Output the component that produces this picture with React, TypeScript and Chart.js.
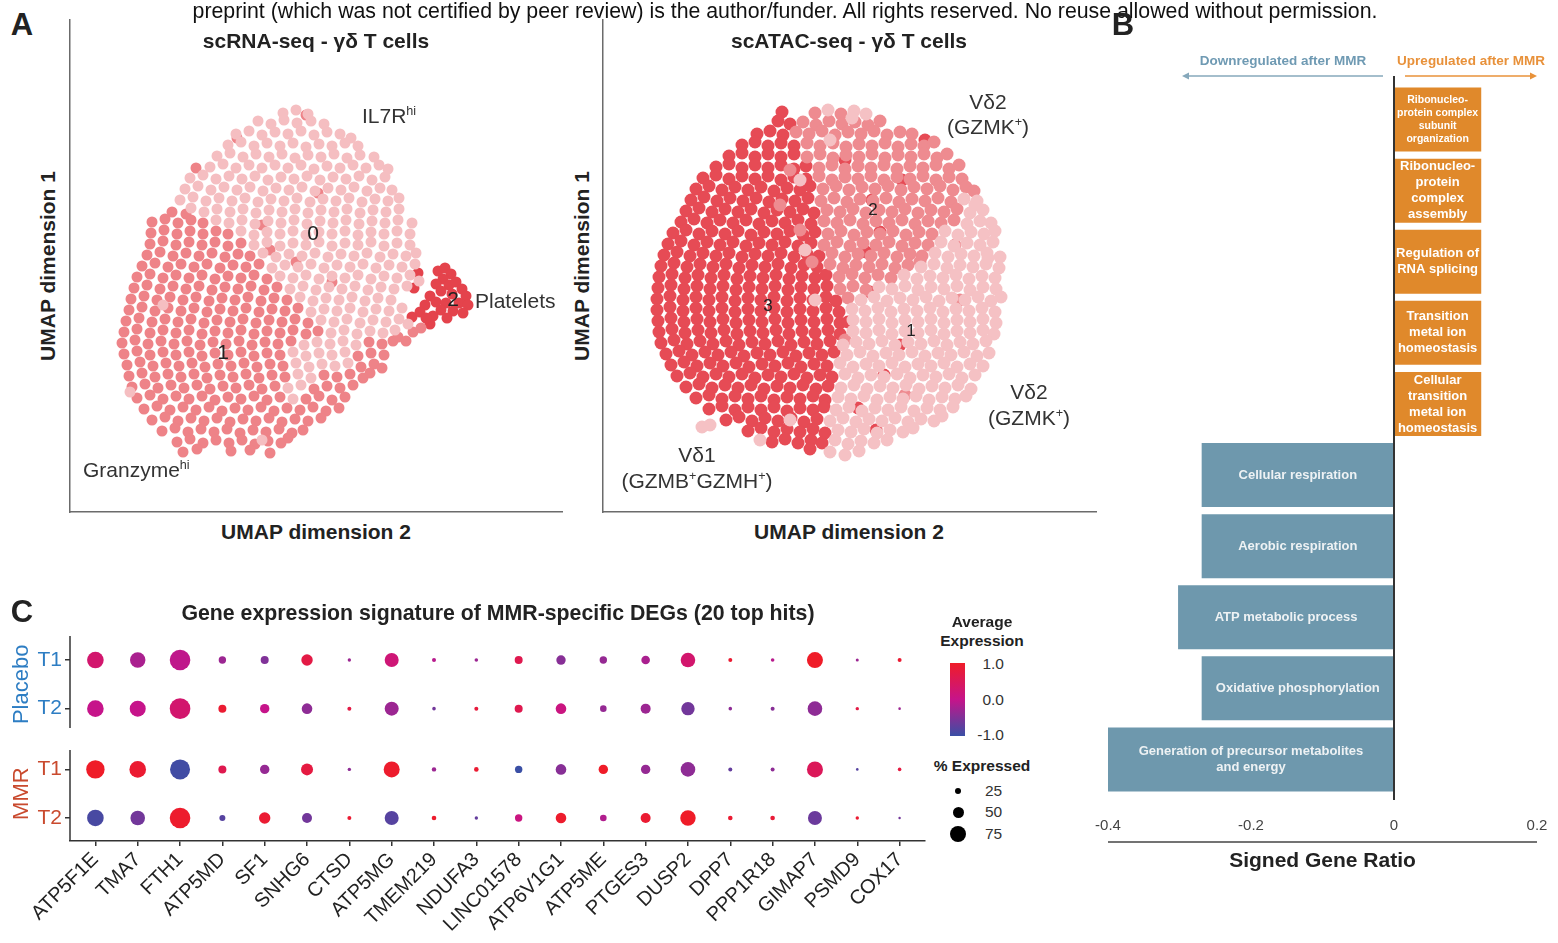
import React, { useEffect, useRef } from "react";
import { Chart, registerables } from "chart.js";

Chart.register(...registerables);

const FONT = "'Liberation Sans', Arial, Helvetica, sans-serif";
Chart.defaults.font.family = FONT;

// ================= Panel A : UMAP embeddings (arbitrary UMAP units, flat x,y pairs) =================
const rnaCluster0 = [
  283,113, 296,110, 308,114,
  258,121, 271,124, 284,120, 297,123, 311,121, 324,124,
  236,134, 249,131, 262,135, 275,132, 288,134, 301,131, 314,135, 327,132, 340,134, 351,138,
  228,145, 241,142, 254,146, 267,143, 280,146, 293,143, 306,147, 319,144, 332,146, 345,143, 358,146,
  217,156, 230,153, 243,157, 256,154, 269,157, 282,154, 295,158, 308,155, 321,157, 334,154, 347,158, 360,155, 374,157,
  210,167, 223,164, 236,168, 249,165, 262,168, 275,165, 288,168, 301,165, 314,169, 327,166, 340,168, 353,165, 366,168, 379,165, 388,169,
  190,178, 203,175, 216,179, 229,176, 242,179, 255,176, 268,180, 281,177, 294,179, 307,176, 320,180, 333,177, 346,179, 359,176, 372,180, 385,177,
  185,189, 198,186, 211,190, 224,187, 237,190, 250,187, 263,191, 276,188, 289,190, 302,187, 315,191, 328,188, 341,190, 354,187, 367,191, 380,188, 392,190,
  180,200, 193,197, 206,201, 219,198, 232,201, 245,198, 258,202, 271,199, 284,201, 297,198, 310,202, 323,199, 336,201, 349,198, 362,202, 375,199, 388,201, 399,198,
  191,208, 204,212, 217,209, 230,212, 243,209, 256,213, 269,210, 282,212, 295,209, 308,213, 321,210, 334,212, 347,209, 360,213, 373,210, 386,212, 399,209,
  216,220, 229,223, 242,220, 255,224, 268,221, 281,223, 294,220, 307,224, 320,221, 333,223, 346,220, 359,224, 372,221, 385,223, 398,220, 412,223,
  241,231, 254,235, 267,232, 280,234, 293,231, 306,235, 319,232, 332,234, 345,231, 358,235, 371,232, 384,234, 397,231, 410,234,
  254,245, 267,242, 280,246, 293,243, 306,245, 319,242, 332,246, 345,243, 358,245, 371,242, 384,246, 397,243, 410,245,
  263,253, 276,257, 289,254, 302,256, 315,253, 328,257, 341,254, 354,256, 367,253, 380,257, 393,254, 406,256, 416,253,
  272,268, 285,265, 298,267, 311,264, 324,268, 337,265, 350,267, 363,264, 376,268, 389,265, 402,267, 415,264,
  280,276, 293,278, 306,275, 319,279, 332,276, 345,278, 358,275, 371,279, 384,276, 397,278, 410,275,
  290,289, 303,286, 316,290, 329,287, 342,289, 355,286, 368,290, 381,287, 394,289, 407,286, 419,281,
  300,297, 313,301, 326,298, 339,300, 352,297, 365,301, 378,298, 391,300,
  311,312, 324,309, 337,311, 350,308, 363,312, 376,309, 389,311, 402,308,
  321,320, 334,322, 347,319, 360,323, 373,320, 386,322, 399,319, 408,324,
  331,333, 344,330, 357,334, 370,331, 383,333, 395,330,
  304,345, 317,342, 330,344, 343,341, 356,345,
  293,352, 306,356, 319,353, 332,355, 345,352,
  296,363, 309,367, 322,364, 335,366, 348,363,
  298,374, 311,378, 288,388, 301,385, 293,399,
  130,392, 163,305, 262,440,
];
const rnaCluster1 = [
  306,115, 237,138, 196,168, 172,212, 186,214, 318,193, 270,250, 296,262, 332,282, 262,225,
  152,222, 165,219, 178,223, 191,220, 203,223,
  151,233, 164,230, 177,234, 190,231, 203,234, 216,231, 228,234,
  150,244, 163,241, 176,245, 189,242, 202,245, 215,242, 228,246, 241,243,
  147,255, 160,252, 173,256, 186,253, 199,256, 212,253, 225,257, 238,254, 250,256,
  142,266, 155,263, 168,267, 181,264, 194,267, 207,264, 220,268, 233,265, 246,267, 259,264,
  137,277, 150,274, 163,278, 176,275, 189,278, 202,275, 215,279, 228,276, 241,278, 254,275, 267,279,
  134,288, 147,285, 160,289, 173,286, 186,289, 199,286, 212,290, 225,287, 238,289, 251,286, 264,290, 277,287,
  131,299, 144,296, 157,300, 170,297, 183,300, 196,297, 209,301, 222,298, 235,300, 248,297, 261,301, 274,298, 287,300,
  129,310, 142,307, 155,311, 168,308, 181,311, 194,308, 207,312, 220,309, 233,311, 246,308, 259,312, 272,309, 285,311, 298,308,
  126,321, 139,318, 152,322, 165,319, 178,322, 191,319, 204,323, 217,320, 230,322, 243,319, 256,323, 269,320, 282,322, 295,319, 308,323,
  124,332, 137,329, 150,333, 163,330, 176,333, 189,330, 202,334, 215,331, 228,333, 241,330, 254,334, 267,331, 280,333, 293,330, 306,334, 318,331,
  122,343, 135,340, 148,344, 161,341, 174,344, 187,341, 200,345, 213,342, 226,344, 239,341, 252,345, 265,342, 278,344, 291,341, 369,342, 382,344, 393,341,
  124,354, 137,351, 150,355, 163,352, 176,355, 189,352, 202,356, 215,353, 228,355, 241,352, 254,356, 267,353, 280,355, 358,356, 371,353, 384,355,
  127,365, 140,362, 153,366, 166,363, 179,366, 192,363, 205,367, 218,364, 231,366, 244,363, 257,367, 270,364, 283,366, 361,367, 374,364, 382,368,
  129,376, 142,373, 155,377, 168,374, 181,377, 194,374, 207,378, 220,375, 233,377, 246,374, 259,378, 272,375, 285,377, 324,375, 337,377, 350,374, 363,378, 370,373,
  132,387, 145,384, 158,388, 171,385, 184,388, 197,385, 210,389, 223,386, 236,388, 249,385, 262,389, 275,386, 314,389, 327,386, 340,388, 353,385,
  137,398, 150,395, 163,399, 176,396, 189,399, 202,396, 215,400, 228,397, 241,399, 254,396, 267,400, 280,397, 306,399, 319,396, 332,400, 345,397,
  144,409, 157,406, 170,410, 183,407, 196,410, 209,407, 222,411, 235,408, 248,410, 261,407, 274,411, 287,408, 300,410, 313,407, 326,411, 339,408,
  152,420, 165,417, 178,421, 191,418, 204,421, 217,418, 230,422, 243,419, 256,421, 269,418, 282,422, 295,419, 308,421, 321,418,
  162,431, 175,428, 188,432, 201,429, 214,432, 227,429, 240,433, 253,430, 266,432, 279,429, 292,433, 303,430,
  177,442, 190,439, 203,443, 216,440, 229,443, 242,440, 255,444, 268,441, 281,443, 288,438,
  183,452, 197,449, 231,451, 250,450, 270,453,
  398,337, 406,341, 413,332, 421,328,
];
const rnaCluster2 = [
  438,271, 445,268, 451,274, 443,279, 436,284, 449,285, 456,282, 462,289, 441,291, 452,294,
  430,296, 466,296, 436,302, 446,303, 459,303, 468,305, 425,305, 441,310, 453,311, 463,313,
  433,316, 447,318, 430,324, 418,273, 414,288, 412,317, 420,312, 426,318,
];

const atacCluster1 = [
  828,110, 854,111, 866,114,
  964,199, 977,201, 970,213, 983,210, 967,224, 980,221, 991,223,
  945,231, 958,235, 971,232, 984,234, 995,231,
  941,242, 954,246, 967,243, 980,245, 993,242,
  935,253, 948,257, 961,254, 974,256, 987,253, 1000,257,
  921,267, 934,264, 947,268, 960,265, 973,267, 986,264, 999,268,
  904,275, 917,279, 930,276, 943,278, 956,275, 969,279, 982,276, 995,278,
  879,287, 892,289, 905,286, 918,290, 931,287, 944,289, 957,286, 970,290, 983,287, 996,289,
  861,300, 874,297, 887,301, 900,298, 913,300, 926,297, 939,301, 952,298, 965,300, 978,297, 991,301, 1001,297,
  852,309, 865,311, 878,308, 891,312, 904,309, 917,311, 930,308, 943,312, 956,309, 969,311, 982,308, 995,312,
  853,320, 866,322, 879,319, 892,323, 905,320, 918,322, 931,319, 944,323, 957,320, 970,322, 983,319, 996,323,
  853,331, 866,333, 879,330, 892,334, 905,331, 918,333, 931,330, 944,334, 957,331, 970,333, 983,330, 994,334,
  843,345, 856,342, 869,344, 882,341, 895,345, 908,342, 921,344, 934,341, 947,345, 960,342, 973,344, 986,341,
  847,355, 860,352, 873,356, 886,353, 899,355, 912,352, 925,356, 938,353, 951,355, 964,352, 977,356, 989,353,
  840,363, 853,367, 866,364, 879,366, 892,363, 905,367, 918,364, 931,366, 944,363, 957,367, 970,364, 983,366,
  845,374, 858,378, 871,375, 884,377, 897,374, 910,378, 923,375, 936,377, 949,374, 962,378, 975,375,
  841,388, 854,385, 867,389, 880,386, 893,388, 906,385, 919,389, 932,386, 945,388, 958,385, 971,389,
  838,397, 851,399, 864,396, 877,400, 890,397, 903,399, 916,396, 929,400, 942,397, 955,399, 966,396,
  836,410, 849,407, 862,411, 875,408, 888,410, 901,407, 914,411, 927,408, 940,410, 953,407,
  830,421, 843,418, 856,422, 869,419, 882,421, 895,418, 908,422, 921,419, 934,421, 942,416,
  838,430, 851,432, 864,429, 877,433, 890,430, 903,432, 913,428,
  835,440, 848,444, 861,441, 874,443, 887,440,
  830,452, 845,455, 859,451,
  702,427, 710,425,
  830,140, 852,118, 975,205, 815,300, 805,250, 790,420, 760,440, 800,180, 988,258,
];
const atacCluster2 = [
  815,113, 841,114,
  803,122, 816,125, 829,121, 842,124, 855,122, 868,125, 880,121,
  796,132, 809,134, 822,131, 835,135, 848,132, 861,134, 874,131, 887,135, 900,132, 912,134,
  807,143, 820,146, 833,143, 846,147, 859,144, 872,146, 885,143, 898,147, 911,144, 924,146, 934,142,
  807,157, 820,154, 833,158, 846,155, 859,157, 872,154, 885,158, 898,155, 911,157, 924,154, 937,158, 947,154,
  819,168, 832,165, 845,169, 858,166, 871,168, 884,165, 897,169, 910,166, 923,168, 936,165, 949,169, 959,165,
  819,176, 832,180, 845,177, 858,179, 871,176, 884,180, 897,177, 910,179, 923,176, 936,180, 949,177, 962,179,
  823,189, 836,186, 849,190, 862,187, 875,189, 888,186, 901,190, 914,187, 927,189, 940,186, 953,190, 966,187, 974,191,
  821,201, 834,198, 847,202, 860,199, 873,201, 886,198, 899,202, 912,199, 925,201, 938,198, 951,202,
  827,210, 840,212, 853,209, 866,213, 879,210, 892,212, 905,209, 918,213, 931,210, 944,212, 957,209,
  824,221, 837,223, 850,220, 863,224, 876,221, 889,223, 902,220, 915,224, 928,221, 941,223, 954,220,
  828,234, 841,231, 854,235, 867,232, 880,234, 893,231, 906,235, 919,232, 932,234,
  824,245, 837,242, 850,246, 863,243, 876,245, 889,242, 902,246, 915,243, 928,245,
  832,253, 845,257, 858,254, 871,256, 884,253, 897,257, 910,254, 922,256,
  830,264, 843,268, 856,265, 869,267, 882,264, 895,268, 908,265,
  839,277, 852,274, 865,278, 878,275, 891,278,
  840,289, 853,286, 866,290, 848,298,
  960,300, 920,262, 800,230, 812,262, 790,170, 955,245, 845,340, 905,395, 780,205,
];
const atacCluster3 = [
  782,112, 778,121, 790,124,
  757,134, 770,131, 783,135,
  742,145, 755,142, 768,146, 781,143, 794,146,
  729,156, 742,153, 755,157, 768,154, 781,157, 794,154,
  716,167, 729,164, 742,168, 755,165, 768,168, 781,165, 794,169, 806,166,
  703,178, 716,175, 729,179, 742,176, 755,179, 768,176, 781,180, 794,177, 806,179,
  696,189, 709,186, 722,190, 735,187, 748,190, 761,187, 774,191, 787,188, 800,190, 810,186,
  691,200, 704,197, 717,201, 730,198, 743,201, 756,198, 769,202, 782,199, 795,201, 808,198,
  686,211, 699,208, 712,212, 725,209, 738,212, 751,209, 764,213, 777,210, 790,212, 803,209, 814,213,
  681,222, 694,219, 707,223, 720,220, 733,223, 746,220, 759,224, 772,221, 785,223, 798,220, 811,224,
  673,233, 686,230, 699,234, 712,231, 725,234, 738,231, 751,235, 764,232, 777,234, 790,231, 803,235, 815,232,
  668,244, 681,241, 694,245, 707,242, 720,245, 733,242, 746,246, 759,243, 772,245, 785,242, 798,246, 811,243,
  664,255, 677,252, 690,256, 703,253, 716,256, 729,253, 742,257, 755,254, 768,256, 781,253, 794,257, 807,254, 819,256,
  661,266, 674,263, 687,267, 700,264, 713,267, 726,264, 739,268, 752,265, 765,267, 778,264, 791,268, 804,265, 817,267,
  659,277, 672,274, 685,278, 698,275, 711,278, 724,275, 737,279, 750,276, 763,278, 776,275, 789,279, 802,276, 815,278, 826,275,
  658,288, 671,285, 684,289, 697,286, 710,289, 723,286, 736,290, 749,287, 762,289, 775,286, 788,290, 801,287, 814,289, 827,286,
  657,299, 670,296, 683,300, 696,297, 709,300, 722,297, 735,301, 748,298, 761,300, 774,297, 787,301, 800,298, 813,300, 826,297, 836,301,
  657,310, 670,307, 683,311, 696,308, 709,311, 722,308, 735,312, 748,309, 761,311, 774,308, 787,312, 800,309, 813,311, 826,308, 839,312,
  658,321, 671,318, 684,322, 697,319, 710,322, 723,319, 736,323, 749,320, 762,322, 775,319, 788,323, 801,320, 814,322, 827,319, 840,323,
  659,332, 672,329, 685,333, 698,330, 711,333, 724,330, 737,334, 750,331, 763,333, 776,330, 789,334, 802,331, 815,333, 828,330, 840,334,
  661,343, 674,340, 687,344, 700,341, 713,344, 726,341, 739,345, 752,342, 765,344, 778,341, 791,345, 804,342, 817,344, 830,341,
  666,354, 679,351, 692,355, 705,352, 718,355, 731,352, 744,356, 757,353, 770,355, 783,352, 796,356, 809,353, 822,355, 834,352,
  671,365, 684,362, 697,366, 710,363, 723,366, 736,363, 749,367, 762,364, 775,366, 788,363, 801,367, 814,364, 827,366,
  677,376, 690,373, 703,377, 716,374, 729,377, 742,374, 755,378, 768,375, 781,377, 794,374, 807,378, 820,375, 832,377,
  686,387, 699,384, 712,388, 725,385, 738,388, 751,385, 764,389, 777,386, 790,388, 803,385, 816,389, 828,386,
  696,398, 709,395, 722,399, 735,396, 748,399, 761,396, 774,400, 787,397, 800,399, 813,396, 825,400,
  709,409, 722,406, 735,410, 748,407, 761,410, 774,407, 787,411, 800,408, 813,410, 824,407,
  726,420, 739,417, 752,421, 765,418, 778,421, 791,418, 804,422, 817,419,
  748,431, 761,428, 774,432, 787,429, 800,432, 813,429, 825,433,
  772,442, 785,439, 798,443, 811,440, 822,443, 810,449,
  845,160, 872,200, 880,232, 902,180, 870,292, 900,345, 884,375, 848,322, 866,252, 925,140, 858,408, 876,430,
];
const rnaRangeX = [70, 562];
const rnaRangeY = [20, 512];
const atacRangeX = [603, 1096];
const atacRangeY = [20, 512];

// ================= Panel B : GO enrichment =================
const goTerms = [
  ["Ribonucleo-", "protein complex", "subunit", "organization"],
  ["Ribonucleo-", "protein", "complex", "assembly"],
  ["Regulation of", "RNA splicing"],
  ["Transition", "metal ion", "homeostasis"],
  ["Cellular", "transition", "metal ion", "homeostasis"],
  ["Cellular respiration"],
  ["Aerobic respiration"],
  ["ATP metabolic process"],
  ["Oxidative phosphorylation"],
  ["Generation of precursor metabolites", "and energy"],
];
const signedGeneRatio = [0.122, 0.122, 0.122, 0.122, 0.122, -0.269, -0.269, -0.302, -0.269, -0.4];
const ratioTicks = [-0.4, -0.2, 0, 0.2];

// ================= Panel C : dot plot =================
const genes = ["ATP5F1E", "TMA7", "FTH1", "ATP5MD", "SF1", "SNHG6", "CTSD", "ATP5MG", "TMEM219", "NDUFA3",
  "LINC01578", "ATP6V1G1", "ATP5ME", "PTGES3", "DUSP2", "DPP7", "PPP1R18", "GIMAP7", "PSMD9", "COX17"];
const sampleLabels = ["T1", "T2", "T1", "T2"];
const sampleGroups = ["Placebo", "Placebo", "MMR", "MMR"];
const groupNames = ["Placebo", "MMR"];
const avgExpPlaceboT1 = [0.3, -0.2, -0.05, -0.3, -0.5, 0.7, -0.3, 0.2, -0.1, -0.3, 0.6, -0.45, -0.35, -0.2, 0.3, 0.9, -0.1, 1.0, -0.3, 0.9];
const avgExpPlaceboT2 = [0.0, 0.0, 0.3, 0.9, 0.0, -0.4, 0.7, -0.3, -0.6, 0.8, 0.6, 0.1, -0.35, -0.3, -0.6, -0.4, -0.45, -0.4, 0.7, -0.3];
const avgExpMmrT1 = [1.0, 0.9, -0.95, 0.6, -0.35, 0.75, -0.4, 0.95, -0.3, 0.9, -1.0, -0.45, 1.0, -0.35, -0.4, -0.7, -0.4, 0.5, -0.8, 0.75];
const avgExpMmrT2 = [-0.9, -0.6, 0.95, -0.8, 0.9, -0.6, 0.9, -0.8, 0.95, -0.7, 0.1, 0.95, -0.15, 0.9, 1.0, 0.9, 0.85, -0.65, 0.9, -0.6];
const pctExpPlaceboT1 = [78, 72, 98, 32, 35, 52, 12, 65, 15, 13, 35, 42, 32, 38, 68, 15, 13, 75, 10, 15];
const pctExpPlaceboT2 = [78, 75, 98, 35, 42, 48, 15, 65, 13, 15, 35, 48, 28, 45, 62, 13, 15, 68, 12, 8];
const pctExpMmrT1 = [87, 78, 95, 35, 42, 55, 12, 75, 17, 18, 32, 48, 42, 42, 68, 15, 15, 75, 8, 13];
const pctExpMmrT2 = [78, 68, 98, 25, 52, 45, 15, 65, 18, 12, 32, 48, 28, 45, 72, 18, 18, 65, 12, 7];
const expLegendTicks = [1.0, 0.0, -1.0];
const pctLegendValues = [25, 50, 75];

// ================= styles & layout =================
const RNA_COLORS = ["#F5BEC1", "#EE8388", "#E4434C"];
const ATAC_COLORS = ["#F5C1C4", "#EE8B90", "#E64B55"];
const ORANGE = "#E0892B";
const BLUE = "#6E98AD";
const EXP_LOW = [58, 79, 165];
const EXP_MID = [198, 20, 138];
const EXP_HIGH = [239, 28, 40];
const GROUP_COLORS = ["#2D7DC3", "#C94A2E"];
const rowPositions = [0, 1, 2.25, 3.25];
const facetRanges = [[-0.495, 1.4], [1.85, 3.724]];
const termFont = [10.5, 13, 13, 13, 13, 13, 13, 13, 13, 13];
const termLine = [12.8, 16, 16, 16, 16, 16, 16, 16, 16, 16];
const ANNOT = 21;

const toPoints = (flat: number[]) => {
  const out: { x: number; y: number }[] = [];
  for (let i = 0; i < flat.length; i += 2) out.push({ x: flat[i], y: flat[i + 1] });
  return out;
};
const pctRadius = (p: number) => 0.5 + 0.1 * p;
const expColor = (v: number) => {
  const t = Math.max(-1, Math.min(1, v));
  const [a, b, f] = t < 0 ? [EXP_LOW, EXP_MID, t + 1] : [EXP_MID, EXP_HIGH, t];
  return `rgb(${(a as number[]).map((c, i) => Math.round(c + ((b as number[])[i] - c) * (f as number))).join(",")})`;
};

function CanvasBox({ x, y, w, h, make }: any) {
  const ref = useRef<HTMLCanvasElement>(null);
  useEffect(() => {
    const chart = new Chart(ref.current as HTMLCanvasElement, make());
    return () => chart.destroy();
  }, []);
  return <canvas ref={ref} width={w} height={h} style={{ position: "absolute", left: x, top: y, width: w, height: h }} />;
}

const hiddenAxis = (range: number[], reverse: boolean) => ({
  type: "linear", min: range[0], max: range[1], reverse,
  ticks: { display: false },
  grid: { display: false, drawTicks: false },
  border: { display: true, color: "#6b6b6b", width: 1.5 },
});

function umapConfig(layers: { values: number[]; color: string }[], rx: number[], ry: number[], radius: number): any {
  return {
    type: "scatter",
    data: {
      datasets: layers.map((l) => ({
        data: toPoints(l.values),
        backgroundColor: l.color,
        pointRadius: radius,
        pointHoverRadius: radius,
        pointBorderWidth: 0,
        borderWidth: 0,
      })),
    },
    options: {
      animation: false, responsive: false, devicePixelRatio: 1, events: [],
      layout: { padding: 4, autoPadding: false },
      plugins: { legend: { display: false }, tooltip: { enabled: false } },
      scales: { x: hiddenAxis(rx, false), y: hiddenAxis(ry, true) },
    },
  };
}

function drawArrow(ctx: CanvasRenderingContext2D, x1: number, x2: number, y: number, color: string) {
  const dir = Math.sign(x2 - x1);
  ctx.strokeStyle = color; ctx.fillStyle = color; ctx.lineWidth = 1.5;
  ctx.beginPath(); ctx.moveTo(x1, y); ctx.lineTo(x2 - dir * 5, y); ctx.stroke();
  ctx.beginPath(); ctx.moveTo(x2, y); ctx.lineTo(x2 - dir * 7, y - 3.5); ctx.lineTo(x2 - dir * 7, y + 3.5); ctx.closePath(); ctx.fill();
}

function goConfig(): any {
  const decor = {
    id: "goDecor",
    afterDatasetsDraw(chart: any) {
      const { ctx, chartArea, scales } = chart;
      const xs = scales.x;
      const x0 = xs.getPixelForValue(0);
      const meta = chart.getDatasetMeta(0);
      ctx.save();
      ctx.textAlign = "center"; ctx.textBaseline = "middle";
      meta.data.forEach((bar: any, i: number) => {
        const { x, y, base } = bar.getProps(["x", "y", "base"], true);
        const cx = (x + base) / 2;
        const lines = goTerms[i];
        ctx.font = `bold ${termFont[i]}px ${FONT}`;
        ctx.fillStyle = signedGeneRatio[i] > 0 ? "#ffffff" : "#eef2f4";
        lines.forEach((ln, k) => ctx.fillText(ln, cx, y + (k - (lines.length - 1) / 2) * termLine[i]));
      });
      ctx.strokeStyle = "#333"; ctx.lineWidth = 2;
      ctx.beginPath(); ctx.moveTo(x0, chartArea.top - 8); ctx.lineTo(x0, chartArea.bottom + 5); ctx.stroke();
      const yAxis = chartArea.bottom + 47;
      ctx.lineWidth = 1.5; ctx.strokeStyle = "#444";
      ctx.beginPath();
      ctx.moveTo(xs.getPixelForValue(ratioTicks[0]), yAxis);
      ctx.lineTo(xs.getPixelForValue(ratioTicks[ratioTicks.length - 1]), yAxis);
      ctx.stroke();
      const ay = chartArea.top - 8;
      drawArrow(ctx, x0 - 11, x0 - 212, ay, "#86a8bb");
      drawArrow(ctx, x0 + 11, x0 + 143, ay, "#E8923A");
      ctx.font = `bold 13.5px ${FONT}`;
      ctx.fillStyle = "#6f9ab3"; ctx.fillText("Downregulated after MMR", x0 - 111, chartArea.top - 23);
      ctx.fillStyle = "#E8913A"; ctx.fillText("Upregulated after MMR", x0 + 77, chartArea.top - 23);
      ctx.restore();
    },
  };
  return {
    type: "bar",
    data: {
      labels: goTerms.map((t) => t.join(" ")),
      datasets: [{
        data: signedGeneRatio,
        backgroundColor: signedGeneRatio.map((v) => (v > 0 ? ORANGE : BLUE)),
        barPercentage: 0.9, categoryPercentage: 1, borderWidth: 0,
      }],
    },
    options: {
      indexAxis: "y", animation: false, responsive: false, devicePixelRatio: 1, events: [],
      layout: { padding: { left: 28, right: 21, top: 44, bottom: 0 } },
      plugins: { legend: { display: false }, tooltip: { enabled: false } },
      scales: {
        x: {
          type: "linear", min: ratioTicks[0], max: ratioTicks[ratioTicks.length - 1],
          afterBuildTicks: (s: any) => { s.ticks = ratioTicks.map((v) => ({ value: v })); },
          ticks: { callback: (v: number) => (v === 0 ? "0" : String(v)), font: { size: 15 }, color: "#444", padding: 0 },
          grid: { display: false, drawTicks: true, tickLength: 22 },
          border: { display: false },
          title: { display: true, text: "Signed Gene Ratio", font: { size: 21, weight: "bold" }, color: "#222", padding: { top: 0, bottom: 26 } },
          afterFit: (s: any) => { s.height = 105; },
        },
        y: { display: false },
      },
    },
    plugins: [decor],
  };
}

function dotConfig(): any {
  const avg = [avgExpPlaceboT1, avgExpPlaceboT2, avgExpMmrT1, avgExpMmrT2];
  const pct = [pctExpPlaceboT1, pctExpPlaceboT2, pctExpMmrT1, pctExpMmrT2];
  const sampleColors = sampleGroups.map((g) => GROUP_COLORS[groupNames.indexOf(g)]);
  const facetDecor = {
    id: "facetDecor",
    afterDraw(chart: any) {
      const { ctx, chartArea, scales: { y } } = chart;
      ctx.save();
      ctx.strokeStyle = "#333"; ctx.lineWidth = 1.5;
      facetRanges.forEach(([a, b]) => {
        ctx.beginPath(); ctx.moveTo(chartArea.left, y.getPixelForValue(a)); ctx.lineTo(chartArea.left, y.getPixelForValue(b)); ctx.stroke();
      });
      groupNames.forEach((g, gi) => {
        const idx = sampleGroups.map((s, i) => (s === g ? i : -1)).filter((i) => i >= 0);
        const cy = idx.reduce((s, i) => s + y.getPixelForValue(rowPositions[i]), 0) / idx.length;
        ctx.save();
        ctx.translate(22, cy); ctx.rotate(-Math.PI / 2);
        ctx.font = `22px ${FONT}`; ctx.fillStyle = GROUP_COLORS[gi];
        ctx.textAlign = "center"; ctx.textBaseline = "middle";
        ctx.fillText(g, 0, 0);
        ctx.restore();
      });
      ctx.restore();
    },
  };
  return {
    type: "bubble",
    data: {
      datasets: avg.map((row, ri) => ({
        data: genes.map((_, gi) => ({ x: gi + 1, y: rowPositions[ri], r: pctRadius(pct[ri][gi]) })),
        backgroundColor: row.map(expColor),
        borderWidth: 0, hoverRadius: 0,
      })),
    },
    options: {
      animation: false, responsive: false, devicePixelRatio: 1, events: [],
      layout: { padding: { left: 0, top: 41, right: 5, bottom: 0 }, autoPadding: false },
      plugins: { legend: { display: false }, tooltip: { enabled: false } },
      scales: {
        x: {
          type: "linear", min: 0.4, max: genes.length + 0.6,
          afterBuildTicks: (s: any) => { s.ticks = genes.map((_, i) => ({ value: i + 1 })); },
          ticks: { autoSkip: false, maxRotation: 45, minRotation: 45, font: { size: 20 }, color: "#222", padding: 2,
            callback: (_v: number, i: number) => genes[i] },
          grid: { display: true, drawOnChartArea: false, drawTicks: true, tickLength: 5, color: "#333", lineWidth: 1.5 },
          border: { display: true, color: "#333", width: 1.5 },
          afterFit: (s: any) => { s.height = 102; },
        },
        y: {
          type: "linear", reverse: true, min: facetRanges[0][0], max: facetRanges[1][1],
          afterBuildTicks: (s: any) => { s.ticks = rowPositions.map((v) => ({ value: v })); },
          ticks: { font: { size: 21 }, padding: 3, color: (c: any) => sampleColors[c.index],
            callback: (_v: number, i: number) => sampleLabels[i] },
          grid: { display: true, drawOnChartArea: false, drawTicks: true, tickLength: 5, color: "#333", lineWidth: 1.5 },
          border: { display: false },
          afterFit: (s: any) => { s.width = 70; },
        },
      },
    },
    plugins: [facetDecor],
  };
}

function Txt({ x, y, size = ANNOT, bold = false, color = "#222", anchor = "middle", rotate = 0, children }: any) {
  const tx = anchor === "start" ? "0" : anchor === "end" ? "-100%" : "-50%";
  return (
    <div style={{ position: "absolute", left: x, top: y, transform: `translate(${tx}, -50%) rotate(${rotate}deg)`,
      fontSize: size, fontWeight: bold ? 700 : 400, color, whiteSpace: "nowrap", lineHeight: 1.15, fontFamily: FONT }}>
      {children}
    </div>
  );
}
const Sup = ({ children }: any) => (
  <span style={{ fontSize: "0.6em", position: "relative", top: "-0.6em" }}>{children}</span>
);

export default function App() {
  return (
    <div style={{ position: "absolute", left: 0, top: 0, width: 1558, height: 943, background: "#fff", overflow: "hidden", fontFamily: FONT }}>
      <CanvasBox x={66} y={16} w={500} h={500}
        make={() => umapConfig([
          { values: rnaCluster0, color: RNA_COLORS[0] },
          { values: rnaCluster1, color: RNA_COLORS[1] },
          { values: rnaCluster2, color: RNA_COLORS[2] },
        ], rnaRangeX, rnaRangeY, 5.5)} />
      <CanvasBox x={599} y={16} w={501} h={500}
        make={() => umapConfig([
          { values: atacCluster1, color: ATAC_COLORS[0] },
          { values: atacCluster2, color: ATAC_COLORS[1] },
          { values: atacCluster3, color: ATAC_COLORS[2] },
        ], atacRangeX, atacRangeY, 6.5)} />
      <CanvasBox x={1080} y={40} w={478} h={860} make={goConfig} />
      <CanvasBox x={0} y={595} w={930} h={348} make={dotConfig} />

      <Txt x={785} y={11} size={21.3} color="#111">preprint (which was not certified by peer review) is the author/funder. All rights reserved. No reuse allowed without permission.</Txt>
      <Txt x={22} y={25} size={31} bold color="#222">A</Txt>
      <Txt x={1123} y={25} size={31} bold color="#222">B</Txt>
      <Txt x={22} y={612} size={31} bold color="#222">C</Txt>

      <Txt x={316} y={41} size={21} bold>scRNA-seq - γδ T cells</Txt>
      <Txt x={48} y={266} size={21} bold rotate={-90}>UMAP dimension 1</Txt>
      <Txt x={316} y={532} size={21} bold>UMAP dimension 2</Txt>
      <Txt x={362} y={116} anchor="start" color="#333">IL7R<Sup>hi</Sup></Txt>
      <Txt x={313} y={233}>0</Txt>
      <Txt x={223} y={352}>1</Txt>
      <Txt x={453} y={299}>2</Txt>
      <Txt x={475} y={301} anchor="start" color="#333">Platelets</Txt>
      <Txt x={83} y={470} anchor="start" color="#333">Granzyme<Sup>hi</Sup></Txt>

      <Txt x={849} y={41} size={21} bold>scATAC-seq - γδ T cells</Txt>
      <Txt x={582} y={266} size={21} bold rotate={-90}>UMAP dimension 1</Txt>
      <Txt x={849} y={532} size={21} bold>UMAP dimension 2</Txt>
      <Txt x={988} y={102} color="#333">Vδ2</Txt>
      <Txt x={988} y={127} color="#333">(GZMK<Sup>+</Sup>)</Txt>
      <Txt x={873} y={210} size={17}>2</Txt>
      <Txt x={768} y={306} size={17}>3</Txt>
      <Txt x={911} y={331} size={17}>1</Txt>
      <Txt x={1029} y={392} color="#333">Vδ2</Txt>
      <Txt x={1029} y={418} color="#333">(GZMK<Sup>+</Sup>)</Txt>
      <Txt x={697} y={455} color="#333">Vδ1</Txt>
      <Txt x={697} y={481} color="#333">(GZMB<Sup>+</Sup>GZMH<Sup>+</Sup>)</Txt>

      <Txt x={498} y={613} size={21.3} bold>Gene expression signature of MMR-specific DEGs (20 top hits)</Txt>
      <Txt x={982} y={622} size={15.5} bold>Average</Txt>
      <Txt x={982} y={641} size={15.5} bold>Expression</Txt>
      <div style={{ position: "absolute", left: 950, top: 663, width: 15, height: 73,
        background: `linear-gradient(to bottom, ${expColor(1)}, ${expColor(0)}, ${expColor(-1)})` }} />
      {expLegendTicks.map((v, i) => (
        <Txt key={v} x={1004} y={664 + i * 35.5} size={15.5} anchor="end" color="#333">{v.toFixed(1)}</Txt>
      ))}
      <Txt x={982} y={766} size={15.5} bold>% Expressed</Txt>
      {pctLegendValues.map((p, i) => {
        const r = pctRadius(p);
        const cy = [791, 812, 834][i];
        return (
          <React.Fragment key={p}>
            <div style={{ position: "absolute", left: 958 - r, top: cy - r, width: 2 * r, height: 2 * r, borderRadius: "50%", background: "#000" }} />
            <Txt x={985} y={cy} size={15.5} anchor="start" color="#333">{p}</Txt>
          </React.Fragment>
        );
      })}
    </div>
  );
}
